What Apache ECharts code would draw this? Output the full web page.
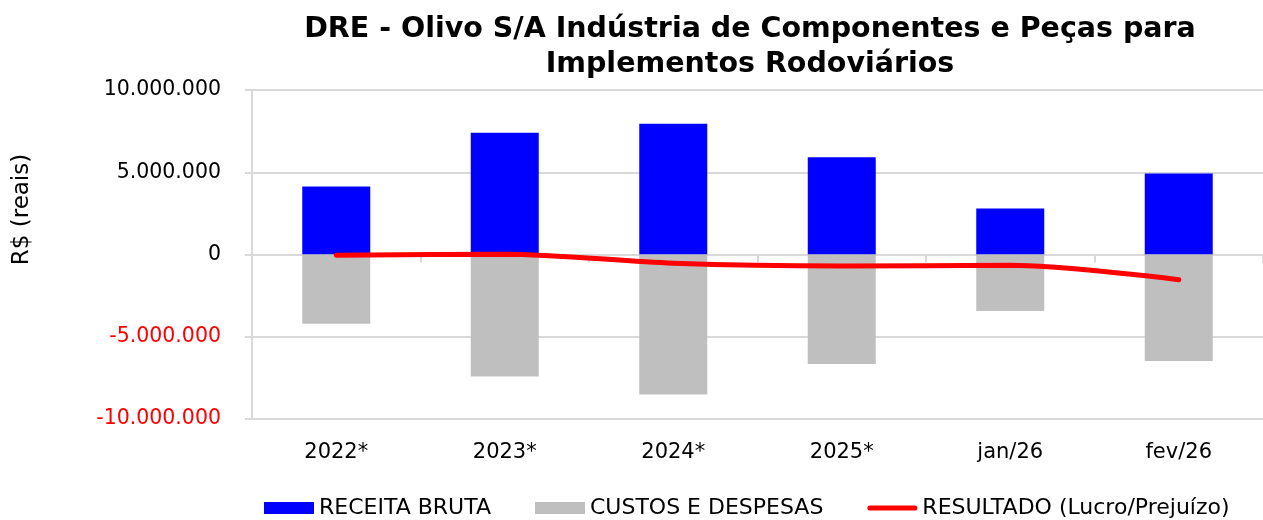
<!DOCTYPE html>
<html>
<head>
<meta charset="utf-8">
<script src="https://cdn.jsdelivr.net/npm/echarts@6/dist/echarts.min.js"></script>
<style>
  html, body { margin: 0; padding: 0; background: #fff; }
  #chart { width: 1263px; height: 520px; }
</style>
</head>
<body>
<div id="chart"></div>
<script>
// dados
const categorias = ['2022*', '2023*', '2024*', '2025*', 'jan/26', 'fev/26'];
const receitaBruta = [4130000, 7400000, 7950000, 5910000, 2800000, 4920000];
const custosDespesas = [-4210000, -7420000, -8510000, -6650000, -3430000, -6480000];
const resultado = [-50000, 20000, -530000, -700000, -660000, -1530000];
const nomesSeries = ['RECEITA BRUTA', 'CUSTOS E DESPESAS', 'RESULTADO (Lucro/Prejuízo)'];

const fonte = 'DejaVu Sans';
const cinzaGrade = '#d9d9d9';

function formataReais(v) {
    const neg = v < 0;
    let s = String(Math.abs(Math.round(v)));
    s = s.replace(/\B(?=(\d{3})+(?!\d))/g, '.');
    return neg ? '{neg|-' + s + '}' : '{pos|' + s + '}';
}

const chart = echarts.init(document.getElementById('chart'));
const option = {
    animation: false,
    title: {
        text: 'DRE - Olivo S/A Indústria de Componentes e Peças para\nImplementos Rodoviários',
        left: 745,
        top: 7,
        textAlign: 'center',
        textStyle: {
            fontFamily: fonte,
            fontWeight: 'bold',
            fontSize: 28.5,
            lineHeight: 35,
            color: '#000'
        }
    },
    legend: {
        top: 492,
        left: 259,
        itemWidth: 50,
        itemHeight: 12,
        itemGap: 44,
        data: [
            { name: nomesSeries[0], icon: 'rect' },
            { name: nomesSeries[1], icon: 'rect' },
            { name: nomesSeries[2], icon: 'path://M2.5,0 L45.5,0 A2.5,2.5 0 0 1 45.5,5 L2.5,5 A2.5,2.5 0 0 1 2.5,0 Z' }
        ],
        textStyle: { fontFamily: fonte, fontSize: 22, color: '#000' }
    },
    grid: {
        left: 252,
        right: 0,
        top: 90,
        bottom: 101,
        containLabel: false
    },
    xAxis: [
        {
            type: 'category',
            data: categorias,
            axisLine: { onZero: true, lineStyle: { color: cinzaGrade, width: 2 } },
            axisTick: { show: true, length: 8, lineStyle: { color: cinzaGrade, width: 2 } },
            axisLabel: { show: false }
        },
        {
            type: 'category',
            data: categorias,
            position: 'bottom',
            axisLine: { show: false, onZero: false },
            axisTick: { show: false },
            axisLabel: {
                margin: 23,
                fontFamily: fonte,
                fontSize: 21,
                color: '#000'
            }
        }
    ],
    yAxis: {
        type: 'value',
        min: -10000000,
        max: 10000000,
        interval: 5000000,
        name: 'R$ (reais)',
        nameLocation: 'middle',
        nameRotate: 90,
        nameGap: 218,
        nameTextStyle: {
            fontFamily: fonte,
            fontSize: 23,
            color: '#000',
            padding: [0, 0, 0, 90]
        },
        axisLine: { show: true, lineStyle: { color: cinzaGrade, width: 2 } },
        axisTick: { show: true, length: 7, lineStyle: { color: cinzaGrade, width: 2 } },
        splitLine: { show: true, lineStyle: { color: cinzaGrade, width: 2 } },
        axisLabel: {
            margin: 31,
            formatter: formataReais,
            rich: {
                pos: { fontFamily: fonte, fontSize: 20.5, color: '#000' },
                neg: { fontFamily: fonte, fontSize: 20.5, color: '#ff0000' }
            }
        }
    },
    series: [
        {
            name: nomesSeries[0],
            type: 'bar',
            stack: 'dre',
            xAxisIndex: 0,
            barWidth: 68,
            itemStyle: { color: '#0000ff' },
            data: receitaBruta
        },
        {
            name: nomesSeries[1],
            type: 'bar',
            stack: 'dre',
            xAxisIndex: 0,
            barWidth: 68,
            itemStyle: { color: '#bfbfbf' },
            data: custosDespesas
        },
        {
            name: nomesSeries[2],
            type: 'line',
            xAxisIndex: 0,
            smooth: 0.3,
            symbol: 'none',
            showSymbol: false,
            lineStyle: { color: '#ff0000', width: 5, cap: 'round' },
            itemStyle: { color: '#ff0000' },
            data: resultado
        }
    ]
};
chart.setOption(option);
</script>
</body>
</html>
